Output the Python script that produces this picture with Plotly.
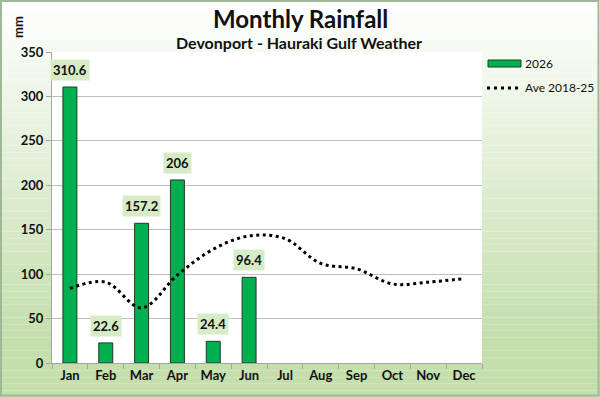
import plotly.graph_objects as go

months = ["Jan", "Feb", "Mar", "Apr", "May", "Jun", "Jul", "Aug", "Sep", "Oct", "Nov", "Dec"]
rain_2026 = [310.6, 22.6, 157.2, 206, 24.4, 96.4]
rain_labels = ["310.6", "22.6", "157.2", "206", "24.4", "96.4"]
ave_2018_25 = [84, 91, 62, 99, 128, 143, 140, 112, 106, 89, 91, 95]
y_ticks = [0, 50, 100, 150, 200, 250, 300, 350]

FONT = "Lato"
W, H = 600, 397
L, R, T, B = 52, 118, 52, 34
pw, ph = W - L - R, H - T - B

def px_x(p):
    return (p - L) / pw

def px_y(p):
    return (H - B - p) / ph

fig = go.Figure()

fig.add_trace(go.Bar(
    x=months[:len(rain_2026)], y=rain_2026, name="2026",
    marker=dict(color="#00b050", line=dict(color="#1e3d22", width=1)),
    width=0.39, showlegend=False,
))
fig.add_trace(go.Scatter(
    x=months, y=ave_2018_25, name="Ave 2018-25", mode="lines",
    line=dict(color="black", width=3, dash="3px,3.5px", shape="spline", smoothing=1.0),
    showlegend=False,
))

# data labels
for m, v, t in zip(months, rain_2026, rain_labels):
    fig.add_annotation(x=m, y=v, xref="x", yref="y", text="<b>" + t + "</b>",
                       showarrow=False, yanchor="bottom", yshift=6,
                       bgcolor="#d6ebc6", borderpad=2,
                       font=dict(family=FONT, size=13, color="#111111"))

# gradient background via strips in paper coords
shapes = []
n = 60
def lerp(a, b, t):
    return int(round(a + (b - a) * t))
top = (255, 255, 255)
bot = (196, 222, 172)
for i in range(n):
    y0px = H * i / n
    y1px = H * (i + 1) / n
    t = min(1.0, (i + 0.5) / n / 0.85)
    c = tuple(lerp(top[k], bot[k], t) for k in range(3))
    shapes.append(dict(type="rect", xref="paper", yref="paper", layer="below",
                       x0=px_x(0), x1=px_x(W),
                       y0=px_y(y1px), y1=px_y(y0px),
                       fillcolor="rgb(%d,%d,%d)" % c, line=dict(width=0)))
# white plot area
shapes.append(dict(type="rect", xref="paper", yref="paper", layer="below",
                   x0=0, x1=1, y0=0, y1=1, fillcolor="white", line=dict(width=0)))
# outer border
shapes.append(dict(type="rect", xref="paper", yref="paper", layer="above",
                   x0=px_x(1), x1=px_x(W - 1.5),
                   y0=px_y(H - 1.5), y1=px_y(1),
                   fillcolor="rgba(0,0,0,0)", line=dict(color="#9fb895", width=2)))

# custom legend
shapes.append(dict(type="rect", xref="paper", yref="paper", layer="above",
                   x0=px_x(488), x1=px_x(521), y0=px_y(67), y1=px_y(60),
                   fillcolor="#00b050", line=dict(color="#1e3d22", width=1)))
shapes.append(dict(type="line", xref="paper", yref="paper", layer="above",
                   x0=px_x(487), x1=px_x(522), y0=px_y(88), y1=px_y(88),
                   line=dict(color="black", width=3, dash="3px,4px")))

fig.update_layout(
    width=W, height=H,
    margin=dict(l=L, r=R, t=T, b=B, autoexpand=False),
    paper_bgcolor="white", plot_bgcolor="rgba(0,0,0,0)",
    shapes=shapes,
    font=dict(family=FONT, color="#111111"),
    showlegend=False,
    bargap=0.6,
)

def txt(text, x, y, size, xanchor="center", angle=0):
    fig.add_annotation(text=text, xref="paper", yref="paper",
                       x=px_x(x), y=px_y(y), xanchor=xanchor, yanchor="middle",
                       showarrow=False, textangle=angle,
                       font=dict(family=FONT, size=size, color="#111111"))

txt("2026", 523, 63.5, 12, "left")
txt("Ave 2018-25", 523, 88, 12, "left")
txt("<b>Monthly Rainfall</b>", 300, 19, 24)
txt("<b>Devonport - Hauraki Gulf Weather</b>", 299, 42, 16)
txt("<b>mm</b>", 18, 27, 13, angle=-90)

fig.update_xaxes(categoryorder="array", categoryarray=months, range=[-0.5, 11.5],
                 automargin=False, tickangle=0,
                 showline=True, linecolor="#a6a6a6", linewidth=1,
                 ticks="outside", tickson="boundaries", ticklen=5, tickcolor="#a6a6a6",
                 tickfont=dict(family=FONT, size=13, color="#111111"),
                 tickvals=months, ticktext=["<b>%s</b>" % m for m in months],
                 showgrid=False)
fig.update_yaxes(range=[0, 350], tickvals=y_ticks, ticktext=["<b>%d</b>" % v for v in y_ticks],
                 automargin=False,
                 showline=True, linecolor="#a6a6a6", linewidth=1,
                 ticks="outside", ticklen=5, tickcolor="#a6a6a6",
                 gridcolor="#bfbfbf", gridwidth=1, zeroline=False,
                 tickfont=dict(family=FONT, size=13, color="#111111"))

fig.write_html("out.html")
